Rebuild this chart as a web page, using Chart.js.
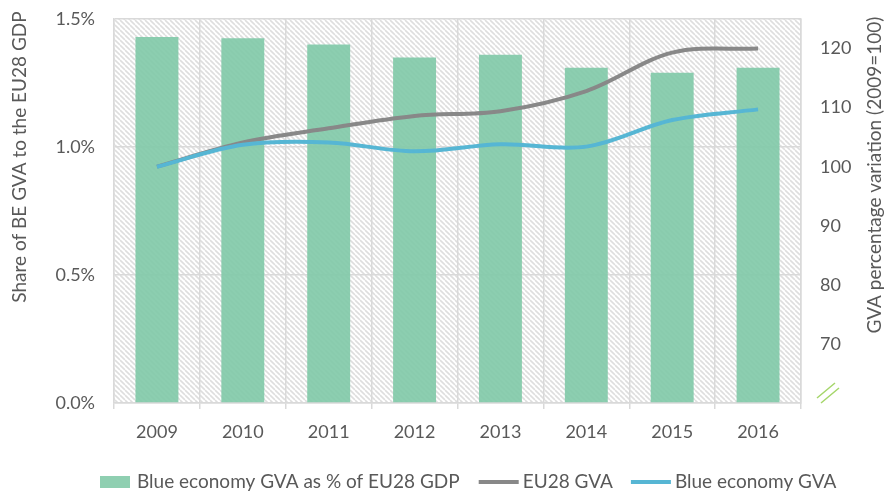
<!DOCTYPE html>
<html>
<head>
<meta charset="utf-8">
<script src="https://cdn.jsdelivr.net/npm/chart.js@4.4.1/dist/chart.umd.min.js"></script>
<style>
  html, body { margin: 0; padding: 0; background: #ffffff; }
  #wrap { width: 887px; height: 494px; position: relative; }
</style>
</head>
<body>
<div id="wrap"><canvas id="c" width="887" height="494"></canvas></div>
<script>
const categories = ['2009', '2010', '2011', '2012', '2013', '2014', '2015', '2016'];
const shareBE = [1.43, 1.425, 1.40, 1.35, 1.36, 1.31, 1.29, 1.31];      // % of EU28 GDP
const eu28GVA = [100, 104.1, 106.5, 108.6, 109.4, 112.8, 119.3, 120.0]; // index 2009=100
const blueGVA = [100, 103.7, 104.1, 102.6, 103.8, 103.4, 107.9, 109.7]; // index 2009=100
const leftTicks = [0, 0.5, 1.0, 1.5];
const rightTicks = [70, 80, 90, 100, 110, 120];
const legendLabels = ['Blue economy GVA as % of EU28 GDP', 'EU28 GVA', 'Blue economy GVA'];
const leftTitle = 'Share of BE GVA to the EU28 GDP';
const rightTitle = 'GVA percentage variation (2009=100)';

const FONT = 'Lato, "Open Sans", "Liberation Sans", sans-serif';
const TXT = '#595959';
const GRID = '#d9d9d9';
const GREEN = 'rgba(128,201,167,0.9)';
const GRAY = '#888888';
const BLUE = '#56b6d4';

function makeHatch() {
  const s = 5;
  const cv = document.createElement('canvas');
  cv.width = s; cv.height = s;
  const g = cv.getContext('2d');
  g.fillStyle = '#ffffff';
  g.fillRect(0, 0, s, s);
  g.strokeStyle = '#dedede';
  g.lineWidth = 1.6;
  for (const k of [-s, 0, s]) {
    g.beginPath();
    g.moveTo(k, 0);
    g.lineTo(k + s, s);
    g.stroke();
  }
  return g.createPattern(cv, 'repeat');
}

const decorPlugin = {
  id: 'decor',
  beforeDraw(chart) {
    const { ctx, chartArea: a } = chart;
    ctx.save();
    ctx.fillStyle = makeHatch();
    ctx.fillRect(a.left, a.top, a.right - a.left, a.bottom - a.top);
    ctx.restore();
  },
  afterDraw(chart) {
    const { ctx } = chart;
    const y1 = chart.scales.y1;
    ctx.save();
    // axis titles
    ctx.fillStyle = TXT;
    ctx.font = '19px ' + FONT;
    ctx.textAlign = 'center';
    ctx.textBaseline = 'middle';
    ctx.save();
    ctx.translate(20, 157);
    ctx.rotate(-Math.PI / 2);
    ctx.fillText(leftTitle, 0, 0);
    ctx.restore();
    ctx.save();
    ctx.translate(875, 175);
    ctx.rotate(-Math.PI / 2);
    ctx.fillText(rightTitle, 0, 0);
    ctx.restore();
    // axis break marks at the bottom of the right axis
    const yb = y1.getPixelForValue(60);
    ctx.strokeStyle = '#a5d66a';
    ctx.lineWidth = 1.5;
    ctx.beginPath();
    ctx.moveTo(817, yb - 5); ctx.lineTo(835, yb - 20);
    ctx.moveTo(821, yb); ctx.lineTo(839, yb - 15);
    ctx.stroke();
    // legend
    const ly = 482;
    ctx.font = '19px ' + FONT;
    ctx.textAlign = 'left';
    let x = 100;
    ctx.fillStyle = 'rgb(143,207,177)';
    ctx.fillRect(x, ly - 6, 30, 12);
    x += 37;
    ctx.fillStyle = TXT;
    ctx.fillText(legendLabels[0], x, ly);
    x += ctx.measureText(legendLabels[0]).width + 19;
    ctx.strokeStyle = GRAY;
    ctx.lineWidth = 4;
    ctx.beginPath(); ctx.moveTo(x, ly); ctx.lineTo(x + 40, ly); ctx.stroke();
    x += 44;
    ctx.fillText(legendLabels[1], x, ly);
    x += ctx.measureText(legendLabels[1]).width + 18;
    ctx.strokeStyle = BLUE;
    ctx.beginPath(); ctx.moveTo(x, ly); ctx.lineTo(x + 40, ly); ctx.stroke();
    x += 44;
    ctx.fillText(legendLabels[2], x, ly);
    ctx.restore();
  }
};

function noPad(scale) {
  scale.paddingTop = 0;
  scale.paddingBottom = 0;
}

new Chart(document.getElementById('c'), {
  type: 'bar',
  data: {
    labels: categories,
    datasets: [
      {
        type: 'line',
        label: legendLabels[2],
        data: blueGVA,
        yAxisID: 'y1',
        borderColor: BLUE,
        borderWidth: 4,
        pointRadius: 0,
        tension: 0.34,
        fill: false,
        order: 0
      },
      {
        type: 'line',
        label: legendLabels[1],
        data: eu28GVA,
        yAxisID: 'y1',
        borderColor: GRAY,
        borderWidth: 4,
        pointRadius: 0,
        tension: 0.34,
        fill: false,
        order: 1
      },
      {
        type: 'bar',
        label: legendLabels[0],
        data: shareBE,
        yAxisID: 'y',
        backgroundColor: GREEN,
        borderWidth: 0,
        barPercentage: 0.5,
        categoryPercentage: 1.0,
        order: 2
      }
    ]
  },
  options: {
    responsive: false,
    animation: false,
    devicePixelRatio: 1,
    layout: { padding: { top: 19, left: 0, right: 0, bottom: 0 } },
    plugins: {
      legend: { display: false },
      tooltip: { enabled: false },
      title: { display: false }
    },
    scales: {
      x: {
        offset: true,
        grid: {
          offset: true,
          color: GRID,
          lineWidth: 1.5,
          drawTicks: true,
          tickLength: 6,
          tickColor: GRID
        },
        border: { color: GRID, width: 1.5 },
        ticks: { color: TXT, font: { family: FONT, size: 18 }, padding: 12 },
        afterFit(scale) { scale.height = 91; scale.paddingLeft = 0; scale.paddingRight = 0; }
      },
      y: {
        position: 'left',
        min: 0,
        max: 1.5,
        afterBuildTicks(scale) { scale.ticks = leftTicks.map(v => ({ value: v })); },
        grid: { color: GRID, lineWidth: 1.5, drawTicks: false },
        border: { color: GRID, width: 1.5 },
        ticks: {
          color: TXT,
          font: { family: FONT, size: 18 },
          padding: 19,
          callback: v => v.toFixed(1) + '%'
        },
        afterFit(scale) { scale.width = 114; noPad(scale); }
      },
      y1: {
        position: 'right',
        min: 60,
        max: 125,
        afterBuildTicks(scale) { scale.ticks = rightTicks.map(v => ({ value: v })); },
        grid: { display: false, drawTicks: false },
        border: { color: GRID, width: 1.5 },
        ticks: {
          color: TXT,
          font: { family: FONT, size: 18 },
          padding: 19,
          callback: v => String(v)
        },
        afterFit(scale) { scale.width = 86; noPad(scale); }
      }
    }
  },
  plugins: [decorPlugin]
});
</script>
</body>
</html>
